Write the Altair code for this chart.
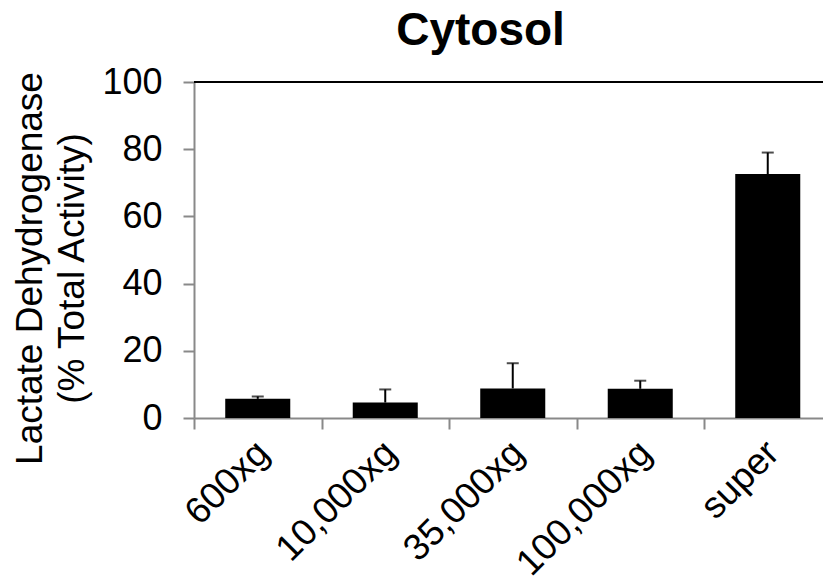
import altair as alt
import pandas as pd

categories = ["600xg", "10,000xg", "35,000xg", "100,000xg", "super"]
values = [5.7, 4.6, 8.8, 8.7, 72.6]
errors = [0.7, 3.9, 7.5, 2.4, 6.4]

df = pd.DataFrame({"cat": categories, "val": values, "err": errors})
df["top"] = df["val"] + df["err"]

FONT = "Liberation Sans"
AX = "#898989"
STEP = 127.5

xscale = alt.Scale(domain=categories, range=[0, 637.5], paddingInner=0.49, paddingOuter=0.245)
yscale = alt.Scale(domain=[0, 100], nice=False)

xenc = alt.X("cat:N", scale=xscale, sort=categories,
             axis=alt.Axis(title=None, labelAngle=315, labelAlign="right", labelBaseline="middle",
                           labelFontSize=37, labelFont=FONT, labelColor="black", labelPadding=18,
                           tickOffset=-STEP / 2, labelOffset=STEP / 2 + 5,
                           tickSize=11, tickWidth=2, tickColor=AX,
                           domainColor=AX, domainWidth=2, labelOverlap=False, labelLimit=0))
yenc = alt.Y("val:Q", scale=yscale,
             axis=alt.Axis(title=["Lactate Dehydrogenase", "(% Total Activity)"],
                           titleFont=FONT, titleFontSize=37, titleFontWeight="normal",
                           titleColor="black", titleLineHeight=42,
                           titleX=-164, titleY=186, titleAlign="center", titleBaseline="middle",
                           titleAngle=270,
                           values=[0, 20, 40, 60, 80, 100], labelFont=FONT, labelFontSize=36,
                           labelColor="black", labelPadding=21, tickSize=11, tickWidth=2,
                           tickColor=AX, domainColor=AX, domainWidth=2, grid=False))

base = alt.Chart(df)
bars = base.mark_bar(color="black").encode(x=xenc, y=yenc)
err = base.mark_rule(color="black", strokeWidth=2).encode(
    x=alt.X("cat:N", scale=xscale, sort=categories), y="val:Q", y2="top:Q")
caps = base.mark_tick(color="black", thickness=2, size=12).encode(
    x=alt.X("cat:N", scale=xscale, sort=categories), y=alt.Y("top:Q", scale=yscale))
toprule = alt.Chart(pd.DataFrame({"v": [100]})).mark_rule(color="black", strokeWidth=2).encode(
    y=alt.Y("v:Q", scale=yscale))

chart = alt.layer(bars, err, caps, toprule).properties(
    width=629, height=336,
    title=alt.TitleParams("Cytosol", font=FONT, fontSize=46, fontWeight="bold", color="black",
                          anchor="middle", dx=-28, offset=9),
    autosize=alt.AutoSizeParams(type="none"),
    padding={"left": 194, "top": 82, "right": 0, "bottom": 167},
).configure_view(stroke=None).configure(background="white")

chart.save("out.html", embed_options={"renderer": "svg", "actions": False})
